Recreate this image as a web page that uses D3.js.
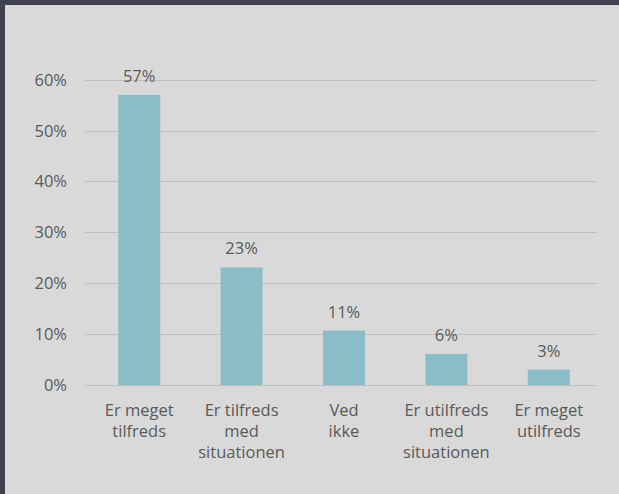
<!DOCTYPE html>
<html>
<head>
<meta charset="utf-8">
<script src="https://cdn.jsdelivr.net/npm/d3@7"></script>
<style>
  html, body { margin: 0; padding: 0; background: #d9d9d9; overflow: hidden; }
  svg { display: block; }
  text { font-family: "Open Sans", sans-serif; fill: #595959; }
</style>
</head>
<body>
<div id="chart"></div>
<script>
const categories = [
    ['Er meget', 'tilfreds'],
    ['Er tilfreds', 'med', 'situationen'],
    ['Ved', 'ikke'],
    ['Er utilfreds', 'med', 'situationen'],
    ['Er meget', 'utilfreds']
];
const values = [0.57, 0.231, 0.107, 0.061, 0.03];
const yTicks = [0, 0.1, 0.2, 0.3, 0.4, 0.5, 0.6];

const width = 619;
const height = 494;
const fontSize = 16.5;

const svg = d3.select('#chart')
    .append('svg')
    .attr('width', width)
    .attr('height', height);

// light panel with a dark frame on top and left only
svg.append('rect')
    .attr('width', width).attr('height', height)
    .attr('fill', '#d9d9d9');
svg.append('rect')
    .attr('width', width).attr('height', 5)
    .attr('fill', '#40424f');
svg.append('rect')
    .attr('width', 5).attr('height', height)
    .attr('fill', '#40424f');

const x = d3.scaleBand()
    .domain(d3.range(categories.length))
    .range([88, 600])
    .paddingInner(0.59)
    .paddingOuter(0.295);

const y = d3.scaleLinear()
    .domain([0, 0.6])
    .range([385, 79.6]);

// gridlines
svg.append('g')
    .selectAll('line')
    .data(yTicks)
    .join('line')
    .attr('x1', 85).attr('x2', 597)
    .attr('y1', d => Math.round(y(d)) + 0.5)
    .attr('y2', d => Math.round(y(d)) + 0.5)
    .attr('stroke', '#bfbfbf')
    .attr('stroke-width', 1);

// y tick labels
svg.append('g')
    .selectAll('text')
    .data(yTicks)
    .join('text')
    .attr('x', 67)
    .attr('y', d => y(d) + 6)
    .attr('text-anchor', 'end')
    .attr('font-size', fontSize)
    .text(d3.format('.0%'));

// bars
svg.append('g')
    .selectAll('rect')
    .data(values)
    .join('rect')
    .attr('x', (d, i) => x(i))
    .attr('width', x.bandwidth())
    .attr('y', d => y(d))
    .attr('height', d => y(0) - y(d))
    .attr('fill', '#8abdc8');

// value labels
svg.append('g')
    .selectAll('text')
    .data(values)
    .join('text')
    .attr('x', (d, i) => x(i) + x.bandwidth() / 2)
    .attr('y', d => y(d) - 13)
    .attr('text-anchor', 'middle')
    .attr('font-size', fontSize)
    .text(d3.format('.0%'));

// category labels
const catText = svg.append('g')
    .selectAll('text')
    .data(categories)
    .join('text')
    .attr('text-anchor', 'middle')
    .attr('font-size', fontSize)
    .attr('transform', (d, i) => `translate(${x(i) + x.bandwidth() / 2},416)`);

catText.selectAll('tspan')
    .data(d => d)
    .join('tspan')
    .attr('x', 0)
    .attr('y', (d, i) => i * 20.8)
    .text(d => d);
</script>
</body>
</html>
